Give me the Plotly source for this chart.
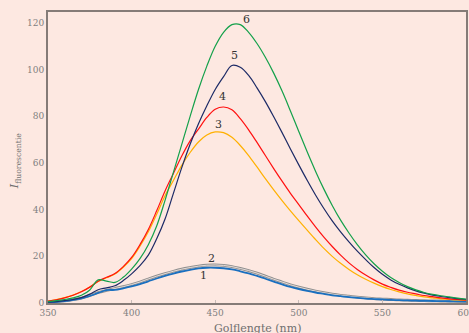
import plotly.graph_objects as go

wavelength = [350, 355, 360, 365, 370, 375, 380, 385, 390, 395,
              400, 405, 410, 415, 420, 425, 430, 435, 440, 445,
              450, 455, 460, 465, 470, 475, 480, 485, 490, 495,
              500, 505, 510, 515, 520, 525, 530, 535, 540, 545,
              550, 555, 560, 565, 570, 575, 580, 585, 590, 595, 600]

curve1 = [0.3, 0.5, 0.8, 1.3, 2.0, 3.0, 4.3, 5.5, 5.6, 6.3,
          7.1, 8.1, 9.3, 10.5, 11.6, 12.6, 13.5, 14.2, 14.8, 15.1,
          15.1, 14.9, 14.4, 13.6, 12.7, 11.6, 10.4, 9.2, 8.0, 6.9,
          6.0, 5.2, 4.5, 3.9, 3.3, 2.9, 2.5, 2.2, 1.9, 1.7,
          1.5, 1.3, 1.2, 1.1, 1.0, 0.9, 0.85, 0.8, 0.75, 0.7, 0.65]
curve2 = [0.4, 0.6, 0.9, 1.4, 2.1, 3.2, 4.5, 5.4, 6.2, 7.0,
          7.9, 9.0, 10.3, 11.5, 12.6, 13.6, 14.5, 15.2, 15.8, 16.2,
          16.3, 16.1, 15.6, 14.8, 13.9, 12.8, 11.5, 10.2, 9.0, 7.8,
          6.8, 5.9, 5.1, 4.4, 3.8, 3.3, 2.9, 2.5, 2.2, 1.9,
          1.7, 1.5, 1.3, 1.2, 1.1, 1.0, 0.9, 0.85, 0.8, 0.75, 0.7]
curve3 = [0.8, 1.5, 2.3, 3.4, 4.9, 6.9, 9.2, 10.8, 12.4, 15.3,
          19.0, 24.3, 30.5, 38.0, 46.0, 52.5, 59.0, 64.5, 69.0, 72.0,
          73.3, 73.0, 71.0, 67.5, 63.2, 58.3, 53.3, 48.5, 43.9, 39.5,
          35.3, 31.2, 27.2, 23.4, 20.0, 17.0, 14.4, 12.1, 10.2, 8.5,
          7.0, 5.8, 4.8, 3.9, 3.2, 2.6, 2.2, 1.8, 1.5, 1.3, 1.1]
curve4 = [0.8, 1.4, 2.2, 3.3, 4.8, 6.8, 9.3, 11.0, 12.6, 15.6,
          19.5, 25.0, 31.5, 39.5, 48.0, 55.5, 63.0, 69.5, 74.5, 79.5,
          83.0, 84.0, 82.8, 79.0, 74.2, 68.8, 63.2, 57.6, 52.2, 47.0,
          42.2, 37.3, 32.6, 28.2, 24.2, 20.5, 17.2, 14.4, 12.0, 9.9,
          8.1, 6.7, 5.5, 4.6, 3.9, 3.2, 2.7, 2.2, 1.8, 1.5, 1.2]
curve5 = [0.4, 0.6, 1.0, 1.5, 2.3, 3.8, 5.7, 6.5, 7.4, 9.6,
          12.5, 16.0, 20.5, 27.5, 36.0, 47.0, 58.0, 68.0, 76.8, 84.5,
          91.5, 97.0, 101.8, 101.0, 97.5, 92.2, 86.3, 79.8, 73.0, 66.0,
          59.2, 52.6, 46.3, 40.5, 35.2, 30.5, 26.2, 22.2, 18.6, 15.2,
          12.3, 9.9, 8.0, 6.5, 5.2, 4.2, 3.4, 2.8, 2.3, 1.9, 1.5]
curve6 = [0.6, 1.0, 1.5, 2.2, 3.3, 5.6, 9.9, 9.4, 8.8, 11.0,
          14.5, 19.0, 25.0, 33.0, 44.0, 56.0, 68.0, 80.0, 91.5, 101.5,
          110.0, 116.0, 119.3, 119.3, 116.0, 111.2, 105.3, 98.5, 90.8, 82.3,
          73.5, 64.8, 56.5, 48.8, 41.8, 35.5, 30.0, 25.0, 20.6, 16.8,
          13.6, 10.9, 8.8, 7.0, 5.6, 4.5, 3.7, 3.1, 2.6, 2.1, 1.7]

label_text = ["1", "2", "3", "4", "5", "6"]
label_x = [443, 448, 452, 454.5, 461.5, 469]
label_y = [11.7, 19.1, 76.3, 88.4, 105.9, 121.7]

x_ticks = [350, 400, 450, 500, 550, 600]
y_ticks = [0, 20, 40, 60, 80, 100, 120]

BG = "#fde8e1"
FONT = "DejaVu Serif"

fig = go.Figure()

def add_line(y, color, width):
    fig.add_trace(go.Scatter(x=wavelength, y=y, mode="lines",
                             line=dict(color=color, width=width, shape="spline", smoothing=1.0),
                             hoverinfo="skip", showlegend=False, cliponaxis=True))

add_line(curve2, "#8e8e8e", 2.8)
add_line(curve2, "#efe4e0", 0.9)
add_line(curve1, "#1a6fbf", 1.8)
add_line(curve3, "#ffb000", 1.2)
add_line(curve4, "#ff1010", 1.2)
add_line(curve5, "#1c2a66", 1.2)
add_line(curve6, "#13a04a", 1.2)

for t, lx, ly in zip(label_text, label_x, label_y):
    fig.add_annotation(x=lx, y=ly, text=t, showarrow=False,
                       font=dict(family=FONT, size=11, color="#333333"))

fig.add_annotation(xref="paper", yref="paper", x=0.5, y=-0.089,
                   xanchor="center", yanchor="middle",
                   text="Golflengte (nm)", showarrow=False,
                   font=dict(family=FONT, size=11, color="#6f6f6f"))
fig.add_annotation(xref="paper", yref="paper", x=-0.077, y=0.49,
                   xanchor="center", yanchor="middle",
                   text="<i>I</i><sub>fluorescentie</sub>", textangle=-90, showarrow=False,
                   font=dict(family=FONT, size=11, color="#6f6f6f"))

fig.update_layout(
    width=469, height=333,
    margin=dict(l=48, r=3, t=12, b=30, autoexpand=False),
    paper_bgcolor=BG, plot_bgcolor=BG,
    font=dict(family=FONT, size=9, color="#7f7f7f"),
    xaxis=dict(range=[350, 600], tickvals=x_ticks, showgrid=False, zeroline=False,
               automargin=False, ticklabeloverflow="allow",
               showline=True, mirror=True, linecolor="#857b77", linewidth=2,
               ticks="inside", ticklen=3, tickcolor="#c8bcb8", tickwidth=1),
    yaxis=dict(range=[0, 124.7], tickvals=y_ticks, showgrid=False, zeroline=False,
               automargin=False,
               showline=True, mirror=True, linecolor="#857b77", linewidth=2,
               ticks=""),
)

fig.write_html("out.html", config={"displayModeBar": False, "staticPlot": True},
               post_script="document.body.style.margin='0';document.body.style.overflow='hidden';")
